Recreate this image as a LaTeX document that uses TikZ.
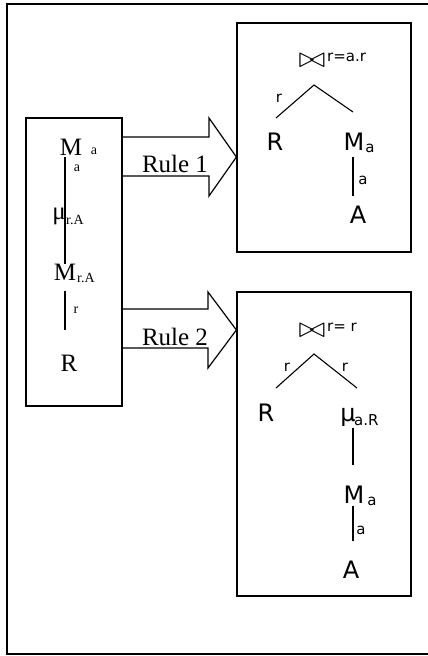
\documentclass[tikz,border=0pt]{standalone}
\usepackage{fontspec}
\setmainfont{Liberation Serif}
\newfontfamily\treefont{DejaVu Sans}
\usetikzlibrary{positioning}

\begin{document}
\begin{tikzpicture}[
    x=1pt,y=-1pt,
    box/.style={draw,line width=1.2pt,inner sep=0pt},
    big/.style={inner sep=0pt,font=\fontsize{25}{25}\selectfont},
    idx/.style={inner sep=0pt,font=\fontsize{14}{14}\selectfont},
    tbig/.style={inner sep=0pt,font=\treefont\fontsize{24}{24}\selectfont},
    tidx/.style={inner sep=0pt,font=\treefont\fontsize{15}{15}\selectfont},
    joinop/.style={inner sep=0pt,font=\fontsize{22}{22}\selectfont},
    edge/.style={line width=1.1pt},
    fatarrow/.style={draw,line width=1.2pt,line join=miter},
]
\useasboundingbox (0,0) rectangle (428,656);
\draw[line width=1.6pt] (428,4) -- (7,4) -- (7,654) -- (428,654);

% boxes
\node[box,minimum width=96pt,minimum height=288pt]  (lhs)  at (74,262) {};
\node[box,minimum width=174pt,minimum height=229pt] (rhs1) at (324,137.5) {};
\node[box,minimum width=174pt,minimum height=304pt] (rhs2) at (324,444) {};

% rule arrows
\draw[fatarrow] (lhs.east |- 0,137) -- (209,137) -- (209,118) -- (rhs1.west |- 0,157)
    -- (209,196) -- (209,176) -- (lhs.east |- 0,176);
\draw[fatarrow] (lhs.east |- 0,309) -- (208,309) -- (208,292) -- (rhs2.west |- 0,330)
    -- (208,368) -- (208,348) -- (lhs.east |- 0,348);
\node[big] (rule1) at (175,164) {Rule 1};
\node[big] (rule2) at (175,337) {Rule 2};

% left expression
\node[big] (ma)     at (71,147) {M};
\node[idx] (maidx)  at (94,151) {a};
\node[idx] (la)     at (77,168) {a};
\node[big] (mu)     at (59,216) {μ};
\node[idx,anchor=west] (muidx) at (66,220) {r.A};
\node[big] (mra)    at (65,272) {M};
\node[idx,anchor=west] (mraidx) at (77,278) {r.A};
\node[idx] (lr)     at (76,310) {r};
\node[big] (rr)     at (69,363) {R};
\draw[edge,shorten <=2pt] (ma.south -| mra) -- (mra.north);
\draw[edge,shorten <=11pt,shorten >=25pt] (mra.south) -- (rr.north -| mra);

% rule 1 result
\node[joinop] (join1) at (312,61) {\scalebox{1.6}[1.4]{$\bowtie$}};
\node[tidx,anchor=west] (cond1) at (327,57) {r=a.r};
\coordinate (top1) at (314,85);
\coordinate (leg1l) at (276,118);
\coordinate (leg1r) at (353,112);
\draw[edge] (leg1l) -- (top1) -- (leg1r);
\node[tidx] (e1r)   at (279,98) {r};
\node[tbig] (r1)    at (275,142) {R};
\node[tbig] (m1)    at (354,142) {M};
\node[tidx] (m1idx) at (370,148) {a};
\node[tidx] (e1a)   at (363,180) {a};
\node[tbig] (a1)    at (358,215) {A};
\draw[edge,shorten <=6pt,shorten >=10pt] (m1.south -| 353,0) -- (a1.north -| 353,0);

% rule 2 result
\node[joinop] (join2) at (312,331) {\scalebox{1.6}[1.4]{$\bowtie$}};
\node[tidx,anchor=west] (cond2) at (327,327) {r= r};
\coordinate (top2) at (314,354);
\coordinate (leg2l) at (276,388);
\coordinate (leg2r) at (357,388);
\draw[edge] (leg2l) -- (top2) -- (leg2r);
\node[tidx] (e2l)    at (287,367) {r};
\node[tidx] (e2r)    at (345,367) {r};
\node[tbig] (r2)     at (266,413) {R};
\node[tbig] (mu2)    at (348,417) {μ};
\node[tidx,anchor=west] (mu2idx) at (354,420) {a.R};
\node[tbig] (m2)     at (354,495) {M};
\node[tidx] (m2idx)  at (372,501) {a};
\node[tidx] (e2a)    at (361,530) {a};
\node[tbig] (a2)     at (351,570) {A};
\draw[edge,shorten <=2pt,shorten >=21pt] (mu2.south -| 353,0) -- (m2.north -| 353,0);
\draw[edge,shorten <=2pt,shorten >=20pt] (m2.south -| 353,0) -- (a2.north -| 353,0);
\end{tikzpicture}
\end{document}
